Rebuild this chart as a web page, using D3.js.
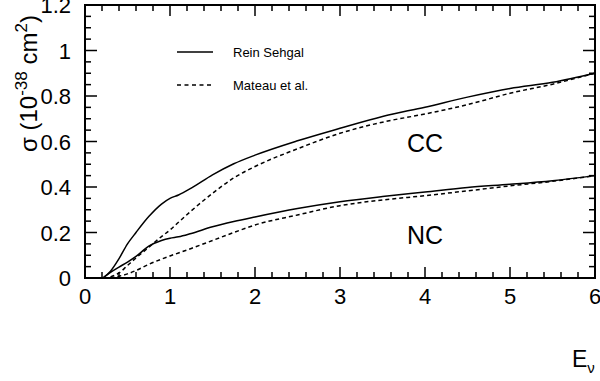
<!DOCTYPE html>
<html>
<head>
<meta charset="utf-8">
<script src="https://cdn.jsdelivr.net/npm/d3@7"></script>
<style>
  body { margin: 0; background: #fff; }
  svg text { font-family: "Liberation Sans", Arial, Helvetica, sans-serif; fill: #000; }
</style>
</head>
<body>
<div id="chart"></div>
<script>
// neutrino energy grid (GeV)
var energy = [0.21, 0.3, 0.4, 0.5, 0.6, 0.75, 0.9, 1.0, 1.1, 1.25, 1.5, 1.75, 2.0, 2.5, 3.0, 3.5, 4.0, 4.5, 5.0, 5.5, 6.0];

// cross sections (10^-38 cm^2), null = curve not started
var ccRein   = [0, 0.03, 0.085, 0.15, 0.2, 0.27, 0.325, 0.35, 0.365, 0.395, 0.453, 0.502, 0.54, 0.603, 0.658, 0.71, 0.751, 0.795, 0.833, 0.86, 0.9];
var ccMateau = [null, 0.005, 0.022, 0.055, 0.088, 0.135, 0.182, 0.211, 0.245, 0.295, 0.372, 0.44, 0.49, 0.568, 0.636, 0.685, 0.721, 0.762, 0.812, 0.852, 0.9];
var ncRein   = [0, 0.025, 0.048, 0.07, 0.095, 0.14, 0.165, 0.175, 0.181, 0.196, 0.225, 0.248, 0.268, 0.305, 0.335, 0.358, 0.378, 0.398, 0.412, 0.428, 0.45];
var ncMateau = [null, 0, 0.008, 0.018, 0.033, 0.06, 0.083, 0.097, 0.11, 0.13, 0.165, 0.2, 0.233, 0.277, 0.318, 0.343, 0.362, 0.383, 0.405, 0.425, 0.45];

var xTicks = [0, 1, 2, 3, 4, 5, 6];
var yTicks = [0, 0.2, 0.4, 0.6, 0.8, 1, 1.2];
var legendNames = ["Rein Sehgal", "Mateau et al."];

var W = 600, H = 381;
var mLeft = 85, mRight = 595, mTop = 5, mBottom = 278;

var x = d3.scaleLinear().domain([0, 6]).range([mLeft, mRight]);
var y = d3.scaleLinear().domain([0, 1.2]).range([mBottom, mTop]);

var svg = d3.select("#chart").append("svg")
    .attr("width", W)
    .attr("height", H);

// ticks, pointing inward, on all four sides
var xMinor = d3.range(0, 6.001, 0.2);
var yMinor = d3.range(0, 1.2001, 0.05);
function isMajor(v, step) { return Math.abs(v / step - Math.round(v / step)) < 1e-6; }

var tg = svg.append("g").attr("stroke", "#000").attr("stroke-width", 1.5);
xMinor.forEach(function(v) {
    var len = isMajor(v, 1) ? 11 : 6;
    tg.append("line").attr("x1", x(v)).attr("x2", x(v)).attr("y1", mBottom).attr("y2", mBottom - len);
    tg.append("line").attr("x1", x(v)).attr("x2", x(v)).attr("y1", mTop).attr("y2", mTop + len);
});
yMinor.forEach(function(v) {
    var len = isMajor(v, 0.2) ? 12 : 6;
    tg.append("line").attr("x1", mLeft).attr("x2", mLeft + len).attr("y1", y(v)).attr("y2", y(v));
    tg.append("line").attr("x1", mRight).attr("x2", mRight - len).attr("y1", y(v)).attr("y2", y(v));
});

// frame
svg.append("rect")
    .attr("x", mLeft).attr("y", mTop)
    .attr("width", mRight - mLeft).attr("height", mBottom - mTop)
    .attr("fill", "none").attr("stroke", "#000").attr("stroke-width", 2);

// tick labels
svg.append("g").selectAll("text")
    .data(xTicks).enter().append("text")
    .attr("x", function(d) { return x(d); })
    .attr("y", 304)
    .attr("text-anchor", "middle")
    .attr("font-size", "22px")
    .text(function(d) { return d; });

svg.append("g").selectAll("text")
    .data(yTicks).enter().append("text")
    .attr("x", 71)
    .attr("y", function(d) { return y(d) + 8; })
    .attr("text-anchor", "end")
    .attr("font-size", "22px")
    .text(function(d) { return d; });

// curves
function series(vals) {
    return energy.map(function(e, i) { return { e: e, s: vals[i] }; });
}
var line = d3.line()
    .defined(function(d) { return d.s !== null; })
    .x(function(d) { return x(d.e); })
    .y(function(d) { return y(d.s); })
    .curve(d3.curveMonotoneX);

var curves = [
    { v: ccRein, dash: null },
    { v: ccMateau, dash: "4,3" },
    { v: ncRein, dash: null },
    { v: ncMateau, dash: "4,3" }
];
curves.forEach(function(c) {
    svg.append("path")
        .datum(series(c.v))
        .attr("d", line)
        .attr("fill", "none")
        .attr("stroke", "#000")
        .attr("stroke-width", 1.5)
        .attr("stroke-dasharray", c.dash);
});

// legend
var lg = svg.append("g");
legendNames.forEach(function(name, i) {
    var ly = 52 + i * 33;
    lg.append("line")
        .attr("x1", 177).attr("x2", 213)
        .attr("y1", ly).attr("y2", ly)
        .attr("stroke", "#000").attr("stroke-width", 1.5)
        .attr("stroke-dasharray", i == 1 ? "4,3.5" : null);
    lg.append("text")
        .attr("x", 233).attr("y", ly + 5)
        .attr("font-size", "13px")
        .text(name);
});

// CC / NC labels
svg.append("text").attr("x", 407).attr("y", 152).attr("font-size", "25px").text("CC");
svg.append("text").attr("x", 407).attr("y", 244).attr("font-size", "25px").text("NC");

// y axis title
var yt = svg.append("text")
    .attr("transform", "translate(37,152) rotate(-90)")
    .attr("font-size", "24px");
yt.append("tspan").text("\u03c3 (10");
yt.append("tspan").attr("dy", -10).attr("font-size", "17px").text("-38");
yt.append("tspan").attr("dy", 10).text(" cm");
yt.append("tspan").attr("dy", -10).attr("font-size", "17px").text("2");
yt.append("tspan").attr("dy", 10).text(")");

// x axis title
var xt = svg.append("text")
    .attr("x", 572).attr("y", 367)
    .attr("font-size", "23px");
xt.append("tspan").text("E");
xt.append("tspan").attr("dy", 6).attr("font-size", "15px").text("\u03bd");
</script>
</body>
</html>
